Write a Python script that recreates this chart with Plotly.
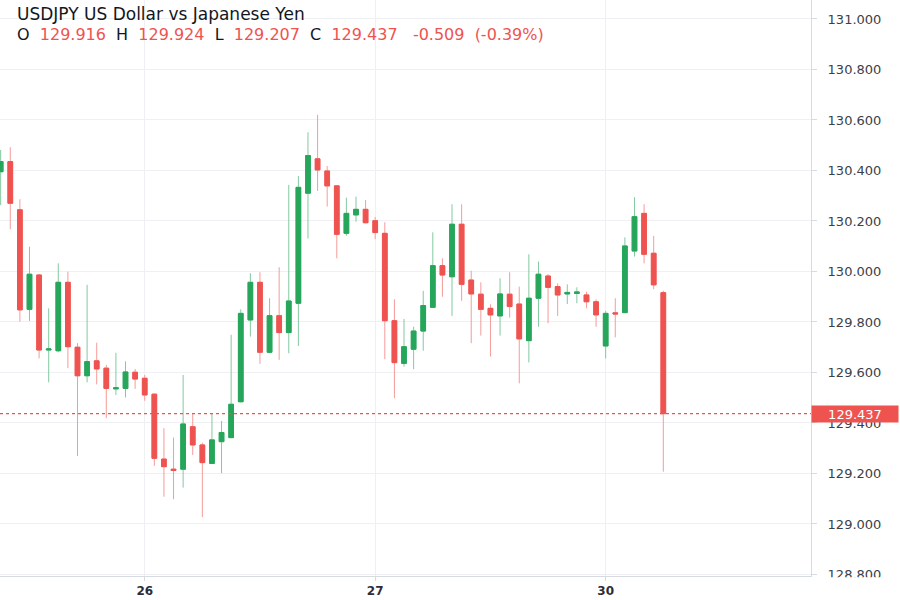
import plotly.graph_objects as go

# Hourly candles, index 0 = 25th 09:00 ... index 69 = 30th 06:00
idx = list(range(70))
opens = [130.395, 130.435, 130.244, 129.850, 129.986, 129.689, 129.686, 129.957, 129.700, 129.587,
         129.646, 129.617, 129.535, 129.537, 129.601, 129.577, 129.514, 129.257, 129.217, 129.217,
         129.385, 129.313, 129.240, 129.326, 129.342, 129.484, 129.808, 129.957, 129.680, 129.825,
         129.758, 129.874, 130.310, 130.446, 130.398, 130.339, 130.151, 130.224, 130.246, 130.201,
         130.151, 129.805, 129.636, 129.692, 129.764, 129.858, 130.023, 129.979, 130.187, 129.966,
         129.910, 129.854, 129.824, 129.910, 129.871, 129.726, 129.894, 129.982, 129.940, 129.911,
         129.913, 129.907, 129.880, 129.705, 129.836, 129.837, 130.081, 130.230, 130.072, 129.916]
highs = [130.481, 130.492, 130.286, 130.098, 129.990, 129.854, 130.032, 129.999, 129.716, 129.947,
         129.718, 129.630, 129.678, 129.644, 129.614, 129.590, 129.516, 129.379, 129.342, 129.590,
         129.436, 129.322, 129.436, 129.408, 129.749, 129.850, 129.993, 129.997, 129.894, 130.017,
         130.343, 130.378, 130.551, 130.620, 130.418, 130.342, 130.292, 130.296, 130.283, 130.215,
         130.195, 129.890, 129.812, 129.781, 129.923, 130.155, 130.052, 130.266, 130.266, 130.003,
         129.957, 129.870, 129.973, 129.997, 129.940, 130.068, 130.039, 129.989, 129.953, 129.949,
         129.937, 129.920, 129.890, 129.844, 129.894, 130.135, 130.294, 130.266, 130.141, 129.924]
lows = [130.263, 130.167, 129.801, 129.804, 129.656, 129.561, 129.680, 129.617, 129.269, 129.561,
        129.553, 129.419, 129.511, 129.501, 129.535, 129.488, 129.230, 129.108, 129.098, 129.144,
        129.273, 129.027, 129.238, 129.201, 129.340, 129.482, 129.742, 129.634, 129.678, 129.650,
        129.676, 129.705, 130.131, 130.319, 130.257, 130.052, 130.141, 130.197, 130.191, 130.128,
        129.653, 129.498, 129.623, 129.613, 129.686, 129.856, 129.900, 129.824, 129.884, 129.716,
        129.746, 129.663, 129.746, 129.817, 129.557, 129.640, 129.781, 129.795, 129.824, 129.871,
        129.874, 129.854, 129.781, 129.656, 129.739, 129.835, 130.059, 130.032, 129.930, 129.207]
closes = [130.435, 130.270, 129.848, 129.989, 129.689, 129.693, 129.957, 129.702, 129.587, 129.643,
          129.614, 129.537, 129.539, 129.602, 129.574, 129.511, 129.260, 129.227, 129.212, 129.396,
          129.313, 129.243, 129.333, 129.362, 129.474, 129.834, 129.957, 129.680, 129.825, 129.758,
          129.883, 130.333, 130.459, 130.402, 130.339, 130.147, 130.230, 130.246, 130.193, 130.154,
          129.805, 129.639, 129.702, 129.764, 129.865, 130.023, 129.986, 130.187, 129.949, 129.911,
          129.850, 129.828, 129.911, 129.861, 129.733, 129.894, 129.989, 129.937, 129.907, 129.917,
          129.919, 129.880, 129.828, 129.834, 129.832, 130.101, 130.217, 130.068, 129.947, 129.437]

day_ticks = [15, 39, 63]
day_labels = ["26", "27", "30"]
price_ticks = [128.8, 129.0, 129.2, 129.4, 129.6, 129.8, 130.0, 130.2, 130.4, 130.6, 130.8, 131.0]

title = "USDJPY US Dollar vs Japanese Yen"
last_o, last_h, last_l, last_c = 129.916, 129.924, 129.207, 129.437
change, change_pct = -0.509, -0.39

GREEN = "#26a65b"
RED = "#ef5350"
GREEN_W = "#82c9a0"
RED_W = "#f59c9a"
FONT = "DejaVu Sans"

body_hi = [max(o, c) for o, c in zip(opens, closes)]
body_lo = [min(o, c) for o, c in zip(opens, closes)]

fig = go.Figure()
# wicks (lighter)
fig.add_trace(go.Candlestick(
    x=idx, open=opens, high=highs, low=lows, close=closes,
    increasing=dict(line=dict(color=GREEN_W, width=1), fillcolor=GREEN),
    decreasing=dict(line=dict(color=RED_W, width=1), fillcolor=RED),
    whiskerwidth=0, showlegend=False, hoverinfo="skip"))
# bodies (solid)
fig.add_trace(go.Candlestick(
    x=idx, open=opens, high=body_hi, low=body_lo, close=closes,
    increasing=dict(line=dict(color=GREEN, width=1), fillcolor=GREEN),
    decreasing=dict(line=dict(color=RED, width=1), fillcolor=RED),
    whiskerwidth=0, showlegend=False))

# last price dashed line
fig.add_shape(type="line", xref="paper", x0=0, x1=1, yref="y", y0=last_c, y1=last_c,
              line=dict(color=RED, width=1.2, dash="3px,3px"))
# mask for the clipped lowest price label
fig.add_shape(type="rect", xref="paper", x0=1.0005, x1=1.2, yref="paper", y0=-0.06, y1=-0.002,
              fillcolor="white", line=dict(width=0), layer="above")

fig.add_annotation(xref="paper", yref="y", x=1, y=last_c, xanchor="left", yanchor="middle",
                   text=f"{last_c:.3f}", showarrow=False, bgcolor=RED, width=84, height=14,
                   borderpad=1, font=dict(family=FONT, size=13, color="white"))

fig.add_annotation(xref="paper", yref="paper", x=0, y=1, xanchor="left", yanchor="middle",
                   xshift=15, yshift=-14, text=title, showarrow=False,
                   font=dict(family=FONT, size=17, color="#131722"))
red_span = '<span style="color:%s">%s</span>'
sp = "  "
line2 = ("O" + sp + red_span % (RED, f"{last_o:.3f}") + sp + "H" + sp + red_span % (RED, f"{last_h:.3f}")
         + sp + "L" + sp + red_span % (RED, f"{last_l:.3f}") + sp + "C" + sp
         + red_span % (RED, f"{last_c:.3f}") + "   "
         + red_span % (RED, f"{change:.3f}" + sp + f"({change_pct:.2f}%)"))
fig.add_annotation(xref="paper", yref="paper", x=0, y=1, xanchor="left", yanchor="middle",
                   xshift=15, yshift=-34, text=line2, showarrow=False,
                   font=dict(family=FONT, size=16, color="#131722"))

fig.update_layout(
    width=900, height=600,
    margin=dict(l=0, r=89, t=0, b=24),
    paper_bgcolor="white", plot_bgcolor="white",
    showlegend=False,
    xaxis=dict(range=[-0.07, 84.38], tickmode="array", tickvals=day_ticks, ticktext=day_labels,
               showgrid=True, gridcolor="#eef0f4", gridwidth=1,
               showline=True, linecolor="#d6dbe1", linewidth=1, mirror=False,
               ticks="outside", ticklen=4, tickcolor="#d6dbe1",
               tickfont=dict(family=FONT, size=12, color="#2a2e39", weight="bold"),
               rangeslider=dict(visible=False), zeroline=False, fixedrange=True),
    yaxis=dict(side="right", range=[128.794, 131.075], tickmode="array", tickvals=price_ticks,
               ticktext=[f"{v:.3f}" for v in price_ticks],
               showgrid=True, gridcolor="#eef0f4", gridwidth=1,
               showline=True, linecolor="#d6dbe1", linewidth=1,
               ticks="outside", ticklen=5, tickcolor="#d6dbe1", ticklabelstandoff=8,
               tickfont=dict(family=FONT, size=13, color="#3b3f4a"),
               zeroline=False, fixedrange=True),
)

fig.write_html("out.html", config={"displayModeBar": False},
               post_script="document.body.style.margin='0';document.body.style.padding='0';")
